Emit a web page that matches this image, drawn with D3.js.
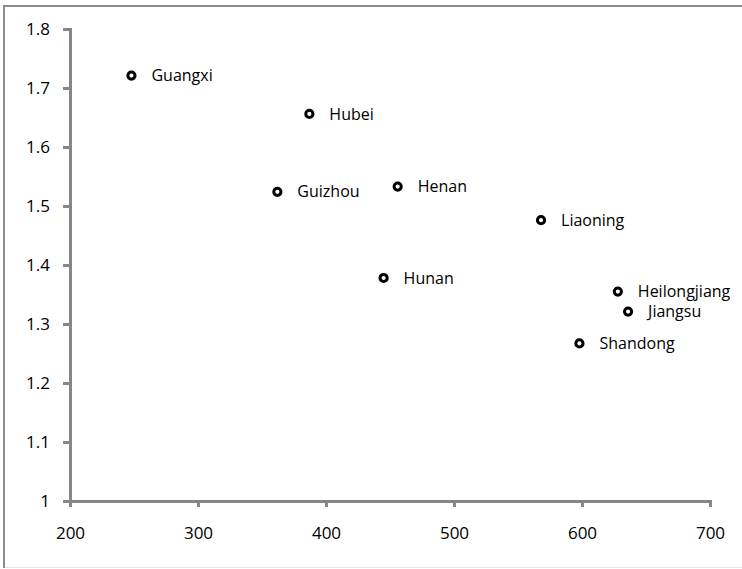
<!DOCTYPE html>
<html>
<head>
<meta charset="utf-8">
<script src="https://cdn.jsdelivr.net/npm/d3@7"></script>
<style>
  body { margin: 0; background: #fff; }
  text { font-family: "Open Sans", "Noto Sans", sans-serif; fill: #000; }
</style>
</head>
<body>
<svg id="drawing_region"></svg>
<script>
// provinces and their values
const provinces = ['Guangxi','Hubei','Guizhou','Henan','Liaoning','Hunan','Heilongjiang','Jiangsu','Shandong'];
const xValues   = [248, 387, 362, 456, 568, 445, 628, 636, 598];
const yValues   = [1.721, 1.656, 1.524, 1.533, 1.476, 1.378, 1.355, 1.321, 1.267];
const xTicks = [200, 300, 400, 500, 600, 700];
const yTicks = [1, 1.1, 1.2, 1.3, 1.4, 1.5, 1.6, 1.7, 1.8];

const data = provinces.map((p, i) => ({ label: p, x: xValues[i], y: yValues[i] }));

const config = {
    width: 742,
    height: 569,
    margin: { top: 29, right: 32, bottom: 68, left: 70 }
};

const svg = d3.select('#drawing_region')
    .attr('width', config.width)
    .attr('height', config.height);

// chart area border (left/top darker, bottom faint)
svg.append('line').attr('x1', 4).attr('x2', 4).attr('y1', 5).attr('y2', 568)
    .attr('stroke', '#8c8c8c').attr('stroke-width', 2);
svg.append('line').attr('x1', 3).attr('x2', config.width).attr('y1', 6).attr('y2', 6)
    .attr('stroke', '#8c8c8c').attr('stroke-width', 2);
svg.append('line').attr('x1', 5).attr('x2', config.width).attr('y1', 567.5).attr('y2', 567.5)
    .attr('stroke', '#e6e6e6').attr('stroke-width', 1);

const inner_width = config.width - config.margin.left - config.margin.right;
const inner_height = config.height - config.margin.top - config.margin.bottom;

const chart = svg.append('g')
    .attr('transform', `translate(${config.margin.left}, ${config.margin.top})`);

const xscale = d3.scaleLinear().domain([200, 700]).range([0, inner_width]);
const yscale = d3.scaleLinear().domain([1, 1.8]).range([inner_height, 0]);

const xaxis = d3.axisBottom(xscale).tickValues(xTicks).tickSize(6).tickPadding(20).tickFormat(d3.format('d'));
const yaxis = d3.axisLeft(yscale).tickValues(yTicks).tickSize(7).tickPadding(13).tickFormat(d => d3.format('')(d));

const xg = chart.append('g')
    .attr('transform', `translate(0, ${inner_height})`)
    .call(xaxis);
const yg = chart.append('g').call(yaxis);

[xg, yg].forEach(g => {
    g.select('.domain').attr('stroke', '#868686').attr('stroke-width', 3);
    g.selectAll('.tick line').attr('stroke', '#868686').attr('stroke-width', 3);
    g.selectAll('.tick text').style('font-size', '17px').attr('fill', '#000')
        .style('font-family', '"Open Sans", "Noto Sans", sans-serif');
});

// points
chart.selectAll('circle')
    .data(data)
    .enter()
    .append('circle')
    .attr('cx', d => xscale(d.x))
    .attr('cy', d => yscale(d.y))
    .attr('r', 3.6)
    .attr('fill', 'white')
    .attr('stroke', 'black')
    .attr('stroke-width', 3);

chart.selectAll('.lbl')
    .data(data)
    .enter()
    .append('text')
    .attr('class', 'lbl')
    .attr('x', d => xscale(d.x) + 20)
    .attr('y', d => yscale(d.y))
    .attr('dy', '0.35em')
    .style('font-size', '16px')
    .text(d => d.label);
</script>
</body>
</html>
